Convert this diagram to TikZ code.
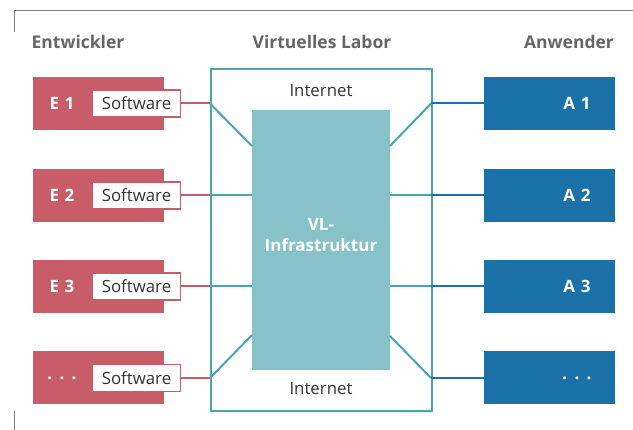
\documentclass[tikz,border=0pt]{standalone}
\usepackage{fontspec}
\setmainfont{Open Sans}
\definecolor{ered}{HTML}{C85C68}
\definecolor{ablue}{HTML}{1A72A8}
\definecolor{vteal}{HTML}{4AA6AD}
\definecolor{vfill}{HTML}{86C2C7}
\definecolor{hgray}{HTML}{666666}
\definecolor{fgray}{HTML}{808080}
\definecolor{tdark}{HTML}{333333}
\begin{document}
\begin{tikzpicture}[x=1pt,y=-1pt,
  ebox/.style={fill=ered,draw=none,minimum width=131pt,minimum height=53pt,inner sep=0pt},
  abox/.style={fill=ablue,draw=none,minimum width=131pt,minimum height=53pt,inner sep=0pt},
  swbox/.style={fill=white,draw=ered,line width=1.5pt,minimum width=88pt,minimum height=27pt,inner sep=0pt,font=\fontsize{16.8}{18}\selectfont,text=tdark},
  lbl/.style={text=white,font=\bfseries\fontsize{17}{18}\selectfont,inner sep=0pt},
  head/.style={text=hgray,font=\bfseries\fontsize{17.5}{18}\selectfont,inner sep=0pt},
  inet/.style={text=tdark,font=\fontsize{16.8}{18}\selectfont,inner sep=0pt},
  redline/.style={draw=ered,line width=2pt},
  tealline/.style={draw=vteal,line width=2pt},
  blueline/.style={draw=ablue,line width=2pt}]
\useasboundingbox (0,0) rectangle (633,430);
% frame lines
\draw[fgray,line width=1.8pt] (14.5,32) -- (14.5,10.5) -- (633,10.5);
\draw[fgray,line width=1.8pt] (14.5,411) -- (14.5,430);
% headers
\node[head] (h1) at (78,42) {Entwickler};
\node[head] (h2) at (322,42) {Virtuelles Labor};
\node[head] (h3) at (569,42) {Anwender};
% VL frame and infrastructure
\node[draw=vteal,line width=2pt,minimum width=221pt,minimum height=342pt,inner sep=0pt] (vl) at (321,240) {};
\node[fill=vfill,minimum width=138pt,minimum height=260pt,inner sep=0pt] (infra) at (321,240) {};
\node[text=white,font=\bfseries\fontsize{17}{21}\selectfont,align=center] (infratxt) at (321,235) {VL-\\Infrastruktur};
\node[inet] (inet1) at (321,91) {Internet};
\node[inet] (inet2) at (321,389) {Internet};
% rows
\foreach \i/\y/\lab/\alab in {1/103.5/E\,\,1/A\,\,1, 2/195.5/E\,\,2/A\,\,2, 3/286.5/E\,\,3/A\,\,3, 4/378/{.\ \,.\ \,.}/{.\ \,.\ \,.}}{
  \node[ebox] (e\i) at (98.5,\y) {};
  \node[lbl] (el\i) at (62,\y) {\lab};
  \node[swbox] (sw\i) at (136.5,\y) {Software};
  \node[abox] (a\i) at (549.5,\y) {};
  \node[lbl] (al\i) at (577,\y) {\alab};
  \coordinate (fl\i) at (210,\y);
  \coordinate (fr\i) at (431,\y);
}
\coordinate (il1) at (252,146);
\coordinate (ir1) at (390,146);
\coordinate (il4) at (252,335);
\coordinate (ir4) at (390,336);
\coordinate (il2) at (252,195.5);
\coordinate (ir2) at (390,195.5);
\coordinate (il3) at (252,286.5);
\coordinate (ir3) at (390,286.5);
\foreach \i in {1,2,3,4}{
  \draw[redline] (sw\i.east) -- (fl\i);
  \draw[tealline] (fl\i) -- (il\i);
  \draw[tealline] (ir\i) -- (fr\i);
  \draw[blueline] (fr\i) -- (a\i.west);
}
\end{tikzpicture}
\end{document}
